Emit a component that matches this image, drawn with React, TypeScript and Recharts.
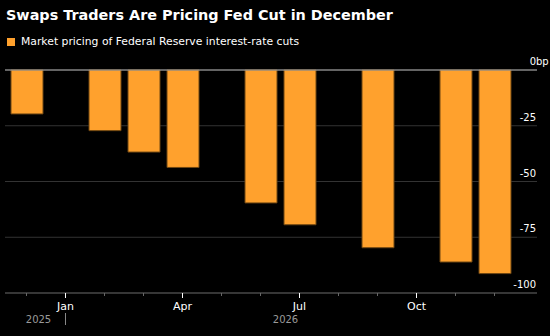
import React from 'react';
import { BarChart, Bar, XAxis, YAxis, CartesianGrid, ReferenceLine } from 'recharts';

// one slot per month, Dec 2025 .. Dec 2026; null = no FOMC meeting that month
const months = ['Dec', 'Jan', 'Feb', 'Mar', 'Apr', 'May', 'Jun', 'Jul', 'Aug', 'Sep', 'Oct', 'Nov', 'Dec'];
const years = ['2025', '2026', '2026', '2026', '2026', '2026', '2026', '2026', '2026', '2026', '2026', '2026', '2026'];
const cuts = [-19.7, null, -27.2, -36.8, -43.7, null, -59.6, -69.4, null, -79.7, null, -86.1, -91.3];

const shownMonths = ['Jan', 'Apr', 'Jul', 'Oct'];
const yTicks = [0, -25, -50, -75, -100];

const data = months.map((m, i) => ({ key: `${m} ${years[i]}`, month: m, year: years[i], value: cuts[i] }));

const FONT = '"DejaVu Sans", Verdana, sans-serif';
const ORANGE = '#ffa12d';

const MonthTick = (props: any) => {
    const { x, y, index } = props;
    const d = data[index];
    if (!d) return null;
    const major = shownMonths.includes(d.month);
    return (
        <g>
            <line x1={x} x2={x} y1={y} y2={y + (major ? 5 : 3)} stroke={major ? '#ffffff' : '#666666'} strokeWidth={1} />
            {major && (
                <text x={x} y={y + 17} textAnchor="middle" fill="#ffffff" fontSize={11} fontFamily={FONT}>{d.month}</text>
            )}
            {d.month === 'Jan' && (
                <line x1={x} x2={x} y1={y + 20} y2={y + 32} stroke="#888888" strokeWidth={1} />
            )}
            {index === 0 && (
                <text x={x + 12} y={y + 30} textAnchor="middle" fill="#9a9a9a" fontSize={10} fontFamily={FONT}>{d.year}</text>
            )}
            {d.month === 'Jul' && (
                <text x={x - 14} y={y + 30} textAnchor="middle" fill="#9a9a9a" fontSize={10} fontFamily={FONT}>{d.year}</text>
            )}
        </g>
    );
};

const ValueTick = (props: any) => {
    const { y, payload } = props;
    return (
        <g>
            <text x={536} y={y - 5} textAnchor="end" fill="#ffffff" fontSize={10} fontFamily={FONT}>{payload.value}</text>
            {payload.value === 0 && (
                <text x={536} y={y - 5} textAnchor="start" fill="#ffffff" fontSize={10} fontFamily={FONT}>bp</text>
            )}
        </g>
    );
};

export default function App() {
    return (
        <div style={{ position: 'absolute', left: 0, top: 0, width: 550, height: 336, background: '#000000', overflow: 'hidden' }}>
            <div style={{ position: 'absolute', left: 6, top: 7, color: '#ffffff', fontFamily: FONT, fontWeight: 'bold', fontSize: 14.4, whiteSpace: 'nowrap' }}>
                Swaps Traders Are Pricing Fed Cut in December
            </div>
            <div style={{ position: 'absolute', left: 7, top: 35, display: 'flex', alignItems: 'center', color: '#ffffff', fontFamily: FONT, fontSize: 10.8, whiteSpace: 'nowrap' }}>
                <span style={{ display: 'inline-block', width: 8, height: 8, background: ORANGE, marginRight: 6 }} />
                Market pricing of Federal Reserve interest-rate cuts
            </div>
            <BarChart
                width={550}
                height={336}
                data={data}
                margin={{ top: 70, right: 0, bottom: 0, left: 5 }}
                barSize={32}
                style={{ position: 'absolute', left: 0, top: 0 }}
            >
                <CartesianGrid horizontal={true} vertical={false} stroke="#333333" />
                <XAxis
                    dataKey="key"
                    height={43}
                    padding={{ left: 2, right: 23 }}
                    axisLine={{ stroke: '#555555' }}
                    tickLine={false}
                    tickSize={0}
                    tickMargin={0}
                    interval={0}
                    tick={<MonthTick />}
                />
                <YAxis
                    orientation="right"
                    width={13}
                    domain={[-100, 0]}
                    ticks={yTicks}
                    axisLine={false}
                    tickLine={false}
                    tick={<ValueTick />}
                />
                <ReferenceLine y={0} stroke="#b0b0b0" strokeWidth={1} />
                <Bar dataKey="value" fill={ORANGE} stroke="#6e4612" strokeWidth={1} isAnimationActive={false} />
            </BarChart>
        </div>
    );
}
